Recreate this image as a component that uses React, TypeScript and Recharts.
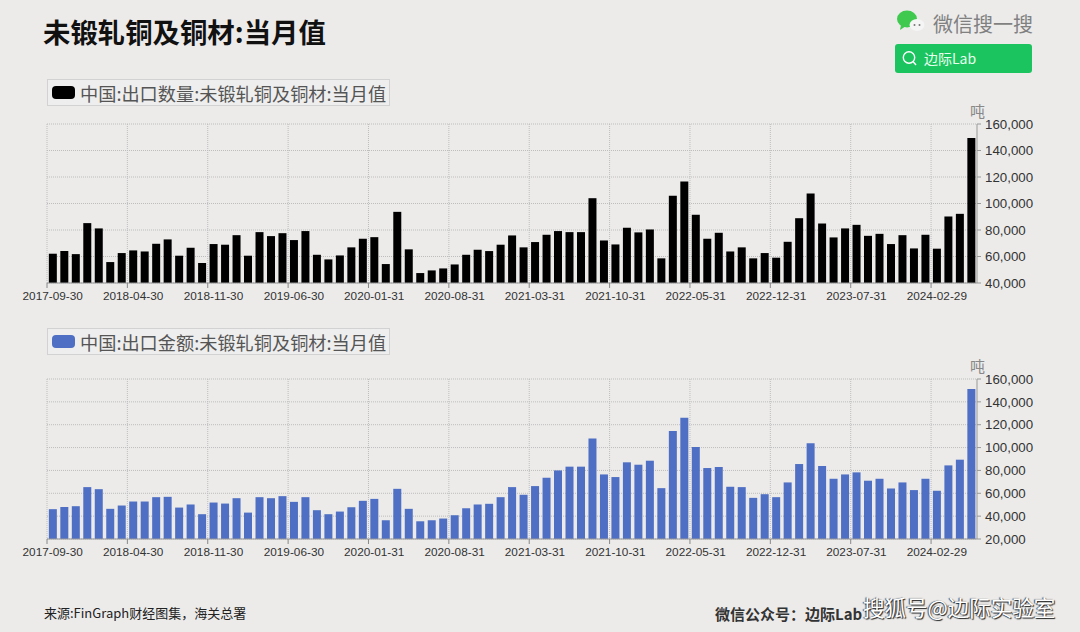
import React from 'react';
import { BarChart, Bar, XAxis, YAxis, CartesianGrid, Legend } from 'recharts';

const months = [
  '2017-09-30', '2017-10-31', '2017-11-30', '2017-12-31', '2018-01-31', '2018-02-28', '2018-03-31',
  '2018-04-30', '2018-05-31', '2018-06-30', '2018-07-31', '2018-08-31', '2018-09-30', '2018-10-31',
  '2018-11-30', '2018-12-31', '2019-01-31', '2019-02-28', '2019-03-31', '2019-04-30', '2019-05-31',
  '2019-06-30', '2019-07-31', '2019-08-31', '2019-09-30', '2019-10-31', '2019-11-30', '2019-12-31',
  '2020-01-31', '2020-02-29', '2020-03-31', '2020-04-30', '2020-05-31', '2020-06-30', '2020-07-31',
  '2020-08-31', '2020-09-30', '2020-10-31', '2020-11-30', '2020-12-31', '2021-01-31', '2021-02-28',
  '2021-03-31', '2021-04-30', '2021-05-31', '2021-06-30', '2021-07-31', '2021-08-31', '2021-09-30',
  '2021-10-31', '2021-11-30', '2021-12-31', '2022-01-31', '2022-02-28', '2022-03-31', '2022-04-30',
  '2022-05-31', '2022-06-30', '2022-07-31', '2022-08-31', '2022-09-30', '2022-10-31', '2022-11-30',
  '2022-12-31', '2023-01-31', '2023-02-28', '2023-03-31', '2023-04-30', '2023-05-31', '2023-06-30',
  '2023-07-31', '2023-08-31', '2023-09-30', '2023-10-31', '2023-11-30', '2023-12-31', '2024-01-31',
  '2024-02-29', '2024-03-31', '2024-04-30', '2024-05-31',
];

const quantity = [
  62100, 64100, 61800, 85200, 81200, 55800, 62600, 64600, 63800, 69600, 72900, 60600, 66600, 55100,
  69400, 68900, 76100, 60600, 78400, 75400, 77600, 72400, 79200, 61300, 57800, 60800, 66900, 73400,
  74600, 54300, 93700, 65400, 47500, 49500, 51000, 54000, 61300, 65100, 64100, 68900, 75900, 66900,
  70900, 76400, 79200, 78400, 78400, 104000, 72100, 69100, 81700, 78200, 80400, 58600, 105800, 116600,
  91500, 73400, 77900, 63800, 66900, 58600, 62600, 59100, 71100, 88900, 107500, 84900, 74400, 81200,
  83900, 75600, 77100, 69400, 76100, 66100, 76400, 65900, 90200, 92200, 149400,
];

const amount = [
  46100, 48100, 48700, 65400, 63600, 46400, 49300, 52800, 52800, 56600, 56900, 47500, 50200, 41700,
  51900, 51000, 55700, 43100, 56600, 55700, 57500, 52500, 56600, 45200, 41700, 44000, 47800, 53400,
  55100, 36400, 63900, 46400, 35500, 36400, 37900, 40800, 46900, 50200, 50800, 56600, 65400, 58700,
  66300, 73600, 80000, 83300, 83300, 107900, 76500, 74200, 87100, 85000, 88500, 64500, 114600, 126000,
  100500, 82100, 83000, 65700, 65400, 56000, 59200, 56600, 69500, 85600, 103800, 83900, 72700, 76500,
  78300, 71000, 72700, 64200, 69500, 62800, 72700, 62200, 84400, 89400, 151200,
];

const quantityTicks = [40000, 60000, 80000, 100000, 120000, 140000, 160000];
const amountTicks = [20000, 40000, 60000, 80000, 100000, 120000, 140000, 160000];

const quantityData = months.map((month, i) => ({ month, value: quantity[i] }));
const amountData = months.map((month, i) => ({ month, value: amount[i] }));

const BG = '#ecebea';
const CJK = '"Noto Sans CJK SC", sans-serif';
const LATIN = '"Liberation Sans", "Noto Sans CJK SC", sans-serif';
const CHART_W = 1080;
const PLOT_LEFT = 47;
const AXIS_W = 103;
const LEGEND_H = 27;
const BAND = (CHART_W - PLOT_LEFT - AXIS_W) / months.length;
const gridXs = months.filter((_, i) => i % 7 === 0).map((_, i) => PLOT_LEFT + i * 7 * BAND);

function DateTick({ x, y, payload }: any) {
  const left = x - BAND / 2;
  return (
    <g>
      <line x1={left} x2={left} y1={y} y2={y + 5} stroke="#888" />
      <text x={x} y={y + 17} textAnchor="middle" fontSize={11.8} fontFamily={LATIN} fill="#333">
        {payload.value}
      </text>
    </g>
  );
}

function BoxLegend({ color, name }: { color: string; name: string }) {
  return (
    <div
      style={{
        width: 343,
        height: LEGEND_H,
        boxSizing: 'border-box',
        border: '1px solid #d2d2d2',
        background: '#eeeeee',
        display: 'flex',
        alignItems: 'center',
        fontFamily: CJK,
        fontSize: 18.2,
        lineHeight: '24px',
        color: '#555',
        whiteSpace: 'nowrap',
      }}
    >
      <span style={{ width: 23, height: 13, borderRadius: 4, background: color, margin: '0 5px 0 4px' }} />
      {name}
    </div>
  );
}

function Panel({ top, height, legendTop, plotTop, data, domain, ticks, color, name }: any) {
  return (
    <div style={{ position: 'absolute', left: 0, top }}>
      <BarChart
        width={CHART_W}
        height={height}
        data={data}
        barCategoryGap="16%"
        margin={{ top: plotTop - LEGEND_H, right: 0, bottom: 0, left: PLOT_LEFT }}
      >
        <CartesianGrid stroke="#bdbdbd" strokeDasharray="1 1" verticalPoints={gridXs} />
        <XAxis
          dataKey="month"
          interval={6}
          height={32}
          axisLine={{ stroke: '#999' }}
          tickLine={false}
          tickSize={0}
          tickMargin={0}
          tick={<DateTick />}
        />
        <YAxis
          orientation="right"
          width={AXIS_W}
          domain={domain}
          ticks={ticks}
          allowDataOverflow
          interval={0}
          axisLine={{ stroke: '#999' }}
          tickLine={{ stroke: '#999' }}
          tickSize={4}
          tickMargin={4}
          tick={{ fontSize: 13.3, fontFamily: LATIN, fill: '#333' }}
          tickFormatter={(v: number) => v.toLocaleString('en-US')}
          label={{
            value: '吨',
            position: 'top',
            dx: -51,
            offset: 7,
            fontSize: 15,
            fontFamily: CJK,
            fill: '#888',
          }}
        />
        <Legend
          verticalAlign="top"
          height={LEGEND_H}
          wrapperStyle={{ left: PLOT_LEFT, top: legendTop, width: 343 }}
          content={() => <BoxLegend color={color} name={name} />}
        />
        <Bar dataKey="value" fill={color} isAnimationActive={false} />
      </BarChart>
    </div>
  );
}

export default function App() {
  const text = { position: 'absolute', whiteSpace: 'nowrap', fontFamily: CJK } as const;
  return (
    <div style={{ position: 'absolute', left: 0, top: 0, width: 1080, height: 632, background: BG, overflow: 'hidden' }}>
      <div style={{ ...text, left: 43, top: 11, fontSize: 27.4, fontWeight: 700, color: '#111', lineHeight: '40px' }}>
        未锻轧铜及铜材:当月值
      </div>

      <svg style={{ position: 'absolute', left: 895, top: 9 }} width={34} height={24}>
        <ellipse cx={12} cy={10} rx={10} ry={8.5} fill="#3fc94f" />
        <path d="M6 16 L5 21 L11 17 Z" fill="#3fc94f" />
        <ellipse cx={22} cy={16} rx={7.5} ry={6} fill="#f4f5f4" />
        <circle cx={19.5} cy={16} r={1} fill="#777" />
        <circle cx={24.5} cy={16} r={1} fill="#777" />
      </svg>
      <div style={{ ...text, left: 933, top: 10, fontSize: 20, color: '#808080', lineHeight: '28px' }}>微信搜一搜</div>
      <div style={{ position: 'absolute', left: 895, top: 44, width: 137, height: 29, background: '#1cc45f', borderRadius: 3 }} />
      <svg style={{ position: 'absolute', left: 901, top: 50 }} width={17} height={17}>
        <circle cx={8} cy={7.5} r={5.7} fill="none" stroke="#fff" strokeWidth={1.4} />
        <line x1={12} y1={11.5} x2={15} y2={15} stroke="#fff" strokeWidth={1.4} />
      </svg>
      <div style={{ ...text, left: 924, top: 48, fontSize: 14, color: '#e8fff0', lineHeight: '21px' }}>边际Lab</div>

      <Panel
        top={0}
        height={315}
        legendTop={79}
        plotTop={124}
        data={quantityData}
        domain={[40000, 160000]}
        ticks={quantityTicks}
        color="#000000"
        name="中国:出口数量:未锻轧铜及铜材:当月值"
      />
      <Panel
        top={250}
        height={321}
        legendTop={78}
        plotTop={129}
        data={amountData}
        domain={[20000, 160000]}
        ticks={amountTicks}
        color="#4f6fc4"
        name="中国:出口金额:未锻轧铜及铜材:当月值"
      />

      <div style={{ ...text, left: 44, top: 603, fontSize: 13, color: '#222', lineHeight: '20px' }}>
        来源:FinGraph财经图集，海关总署
      </div>
      <div style={{ ...text, left: 715, top: 603, fontSize: 15, fontWeight: 700, color: '#333', lineHeight: '22px' }}>
        微信公众号：边际Lab
      </div>
      <div
        style={{
          ...text,
          left: 863,
          top: 592,
          fontSize: 21.5,
          color: '#fff',
          lineHeight: '30px',
          textShadow: '1px 1px 1px #222, -1px 0 1px #444',
        }}
      >
        搜狐号@边际实验室
      </div>
    </div>
  );
}
